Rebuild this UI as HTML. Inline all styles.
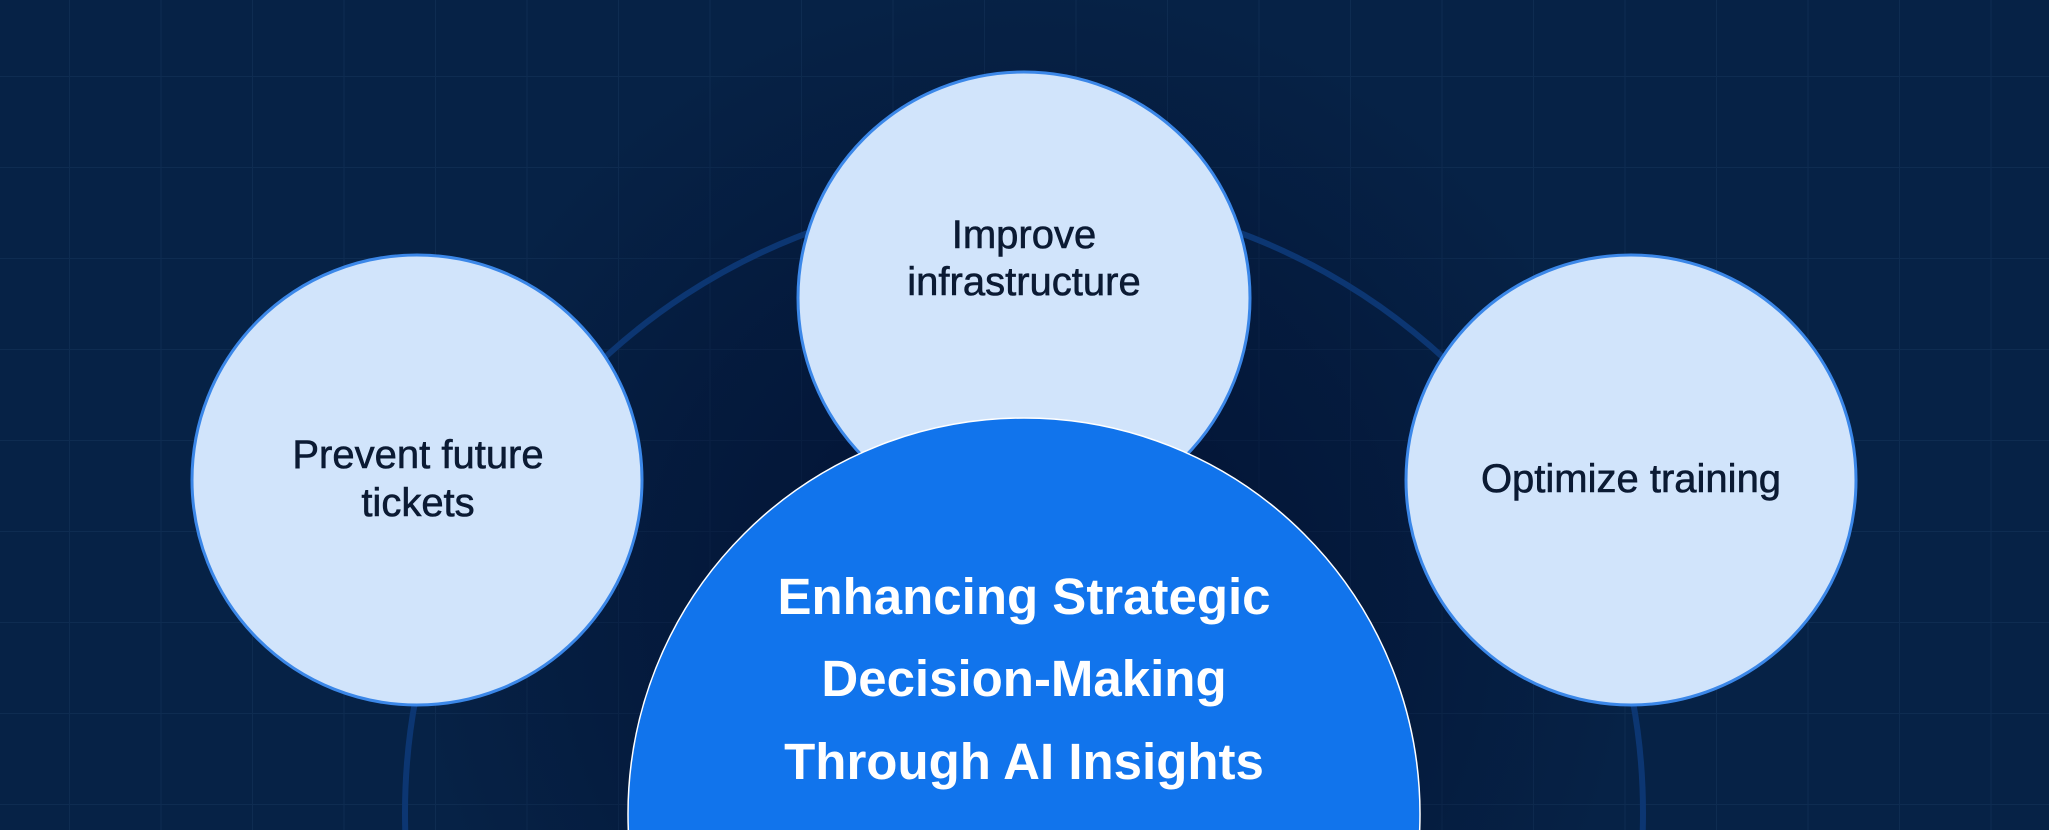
<!DOCTYPE html>
<html><head><meta charset="utf-8"><style>
html,body{margin:0;padding:0;background:#062246;width:2049px;height:830px;overflow:hidden;}
svg{display:block}
text{font-family:"Liberation Sans",sans-serif;}
</style></head><body>
<svg width="2049" height="830" viewBox="0 0 2049 830" xmlns="http://www.w3.org/2000/svg">
<defs>
<pattern id="g" x="69" y="76" width="91.5" height="91" patternUnits="userSpaceOnUse">
<path d="M0 0V91M0 0H91.5" stroke="#0e2c51" stroke-width="2" fill="none"/>
</pattern>
<radialGradient id="rg" cx="1024" cy="600" r="620" gradientUnits="userSpaceOnUse">
<stop offset="0" stop-color="#020c2c" stop-opacity="0.75"/>
<stop offset="0.6" stop-color="#020c2c" stop-opacity="0.35"/>
<stop offset="1" stop-color="#020c2c" stop-opacity="0"/>
</radialGradient>
<clipPath id="c"><rect width="2049" height="830"/></clipPath>
</defs>
<g clip-path="url(#c)">
<rect width="2049" height="830" fill="#062246"/>
<rect width="2049" height="830" fill="url(#g)"/>
<rect width="2049" height="830" fill="url(#rg)"/>
<circle cx="1024" cy="813" r="619" fill="none" stroke="#0c3672" stroke-width="6"/>
<g fill="#d1e4fb" stroke="#3b87e8" stroke-width="3">
<circle cx="417" cy="480" r="225"/>
<circle cx="1024" cy="298" r="226"/>
<circle cx="1631" cy="480" r="225"/>
</g>
<circle cx="1024" cy="814" r="396" fill="#1174ec" stroke="#ffffff" stroke-width="1.5"/>
<g fill="#0b1a33" font-size="40" text-anchor="middle" stroke="#0b1a33" stroke-width="0.6">
<text x="418" y="468">Prevent future</text>
<text x="418" y="516">tickets</text>
<text x="1024" y="248">Improve</text>
<text x="1024" y="295">infrastructure</text>
<text x="1631" y="492">Optimize training</text>
</g>
<g fill="#ffffff" font-size="51" font-weight="bold" text-anchor="middle">
<text x="1024" y="614">Enhancing Strategic</text>
<text x="1024" y="696">Decision-Making</text>
<text x="1024" y="779">Through AI Insights</text>
</g>
</g>
</svg>
</body></html>
